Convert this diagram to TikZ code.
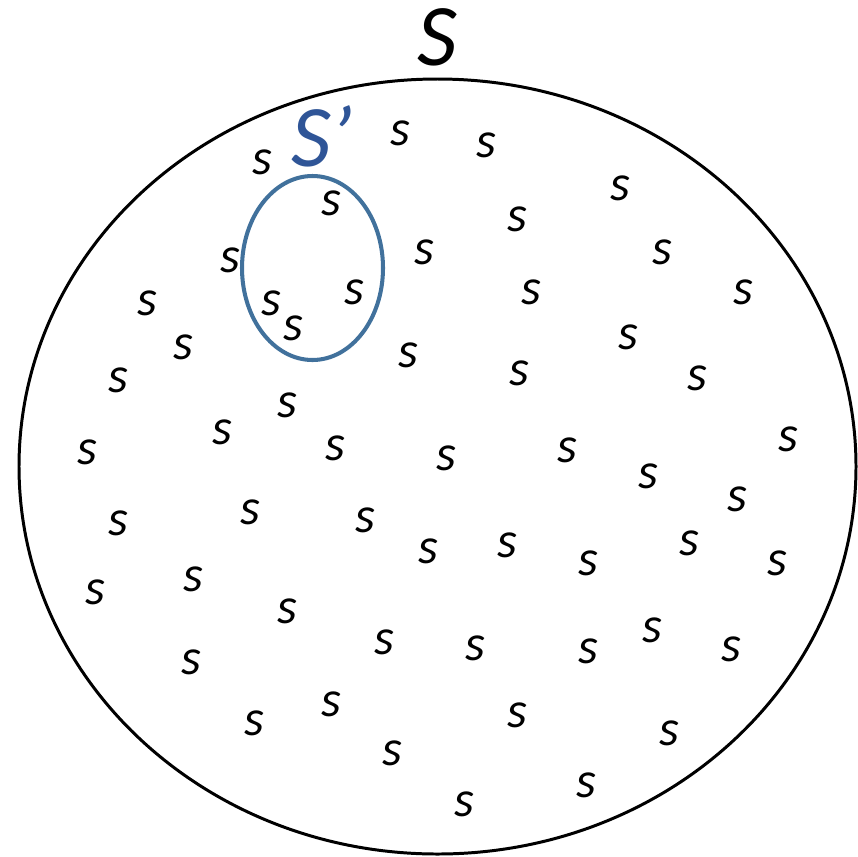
\documentclass[tikz,border=0pt]{standalone}
\usepackage{fontspec}
\setmainfont{Carlito}
\usepackage{tikz}

\definecolor{subblue}{RGB}{47,85,151}
\definecolor{ringblue}{RGB}{65,113,156}

\tikzset{
  elem/.style={font=\fontsize{29}{32}\selectfont\itshape, inner sep=0pt},
  setname/.style={font=\fontsize{50}{56}\selectfont\itshape, inner sep=0pt}
}

\begin{document}
\begin{tikzpicture}[x=0.02cm,y=-0.02cm]
\useasboundingbox (0,0) rectangle (858,856);

\draw[line width=1.7pt] (437.5,466.5) ellipse (418.5 and 387.5);
\draw[ringblue, line width=2.3pt] (312.5,268) ellipse (70.5 and 92);

\node[setname] (S) at (437,37) {S};
\node[setname, subblue] (Sp) at (322,136) {S’};

\node[elem] (s1) at (262,162) {s};
\node[elem] (s2) at (400,133) {s};
\node[elem] (s3) at (486,145) {s};
\node[elem] (s4) at (620,188) {s};
\node[elem] (s5) at (331,203) {s};
\node[elem] (s6) at (517,219) {s};
\node[elem] (s7) at (230,260) {s};
\node[elem] (s8) at (424,252) {s};
\node[elem] (s9) at (662,252) {s};
\node[elem] (s10) at (147,303) {s};
\node[elem] (s11) at (271,303) {s};
\node[elem] (s12) at (354,292) {s};
\node[elem] (s13) at (531,292) {s};
\node[elem] (s14) at (743,292) {s};
\node[elem] (s15) at (183,347) {s};
\node[elem] (s16) at (293,328) {s};
\node[elem] (s17) at (408,355) {s};
\node[elem] (s18) at (628,337) {s};
\node[elem] (s19) at (118,380) {s};
\node[elem] (s20) at (519,373) {s};
\node[elem] (s21) at (697,378) {s};
\node[elem] (s22) at (287,405) {s};
\node[elem] (s23) at (222,432) {s};
\node[elem] (s24) at (335,448) {s};
\node[elem] (s25) at (446,458) {s};
\node[elem] (s26) at (567,450) {s};
\node[elem] (s27) at (788,439) {s};
\node[elem] (s28) at (87,452) {s};
\node[elem] (s29) at (648,476) {s};
\node[elem] (s30) at (737,499) {s};
\node[elem] (s31) at (118,523) {s};
\node[elem] (s32) at (250,512) {s};
\node[elem] (s33) at (365,520) {s};
\node[elem] (s34) at (428,551) {s};
\node[elem] (s35) at (507,545) {s};
\node[elem] (s36) at (588,563) {s};
\node[elem] (s37) at (689,543) {s};
\node[elem] (s38) at (777,563) {s};
\node[elem] (s39) at (95,592) {s};
\node[elem] (s40) at (193,579) {s};
\node[elem] (s41) at (287,611) {s};
\node[elem] (s42) at (384,642) {s};
\node[elem] (s43) at (475,648) {s};
\node[elem] (s44) at (588,651) {s};
\node[elem] (s45) at (652,630) {s};
\node[elem] (s46) at (731,649) {s};
\node[elem] (s47) at (191,662) {s};
\node[elem] (s48) at (517,715) {s};
\node[elem] (s49) at (331,704) {s};
\node[elem] (s50) at (254,723) {s};
\node[elem] (s51) at (392,753) {s};
\node[elem] (s52) at (669,733) {s};
\node[elem] (s53) at (586,785) {s};
\node[elem] (s54) at (464,804) {s};

\end{tikzpicture}
\end{document}
